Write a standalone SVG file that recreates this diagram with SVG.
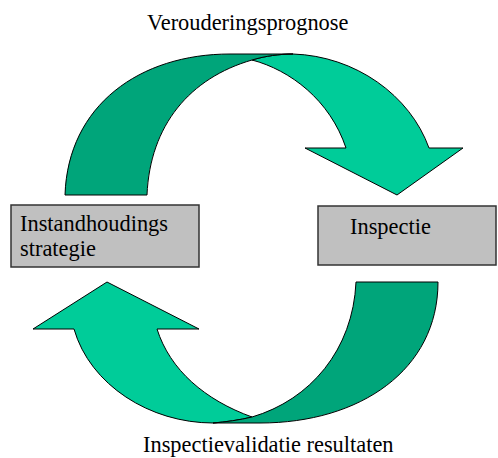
<svg xmlns="http://www.w3.org/2000/svg" width="498" height="458" viewBox="0 0 498 458">
<style>
.dark{fill:#00a57a;stroke:#000;stroke-width:1}
.light{fill:#00cc99;stroke:#000;stroke-width:1}
.box{fill:#c0c0c0;stroke:#333;stroke-width:1.5}
.t{font-family:"Liberation Serif","Times New Roman",serif;font-size:22.4px;fill:#000}
</style>
<rect width="498" height="458" fill="#fff"/>
<g id="connectors">
<g id="arrow-top">
<path class="light" d="M252,60 C265,56 280,54 293,54 C355,56 410,95 429,148 L463,148 L397,195 L305,148 L346,148 C330,100 290,70 252,60 Z"/>
<path class="dark" d="M65,195 C68,105 140,54 230,54 L293,54 C280,54 265,56 252,60 C190,78 150,125 147,195 Z"/>
</g>
<g id="arrow-bottom">
<path class="light" d="M74,329 C90,385 150,423 213,423 C225,422 240,420 252,417 C205,400 170,370 157,329 L199,329 L107,282 L33,329 Z"/>
<path class="dark" d="M356,282 L438,282 C438,370 360,423 260,423 L213,423 C225,422 240,420 252,417 C310,400 353,350 356,282 Z"/>
</g>
</g>
<g id="node-instandhouding">
<rect class="box" x="11" y="205" width="188" height="62"/>
<text class="t" x="20" y="231">Instandhoudings</text>
<text class="t" x="20" y="256">strategie</text>
</g>
<g id="node-inspectie">
<rect class="box" x="318" y="206" width="178" height="59"/>
<text class="t" x="350" y="234">Inspectie</text>
</g>
<g id="label-top">
<text class="t" x="147" y="30">Verouderingsprognose</text>
</g>
<g id="label-bottom">
<text class="t" x="143" y="452">Inspectievalidatie resultaten</text>
</g>
</svg>
